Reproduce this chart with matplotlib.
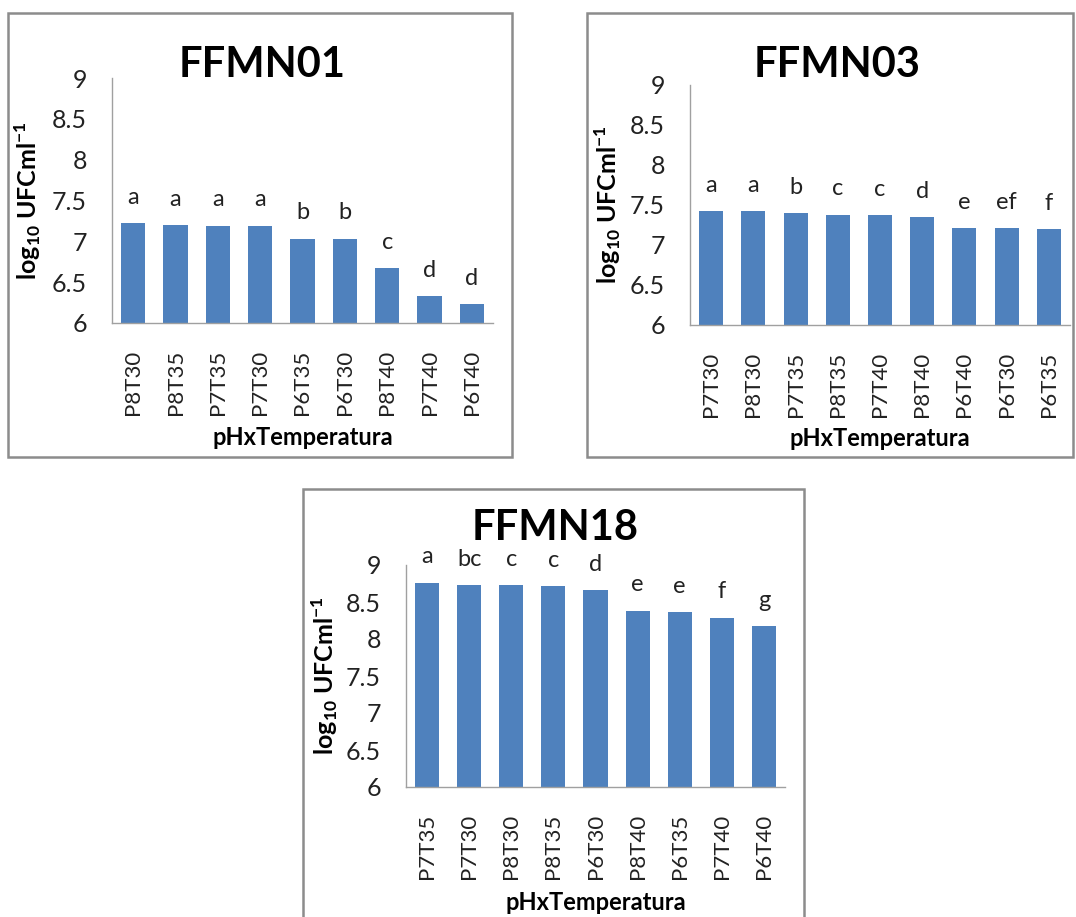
import matplotlib.pyplot as plt
from matplotlib.patches import Rectangle

plt.rcParams['font.family'] = ['Lato', 'DejaVu Sans']
plt.rcParams['mathtext.fontset'] = 'custom'
plt.rcParams['mathtext.rm'] = 'Lato:bold'
plt.rcParams['mathtext.bf'] = 'Lato:bold'

W, H = 1076, 917
BAR_COLOR = '#4F81BD'
GREY = '#8c8c8c'

# FFMN01
cats_01 = ['P8T30', 'P8T35', 'P7T35', 'P7T30', 'P6T35', 'P6T30', 'P8T40', 'P7T40', 'P6T40']
vals_01 = [7.22, 7.20, 7.19, 7.19, 7.03, 7.03, 6.67, 6.33, 6.23]
letters_01 = ['a', 'a', 'a', 'a', 'b', 'b', 'c', 'd', 'd']

# FFMN03
cats_03 = ['P7T30', 'P8T30', 'P7T35', 'P8T35', 'P7T40', 'P8T40', 'P6T40', 'P6T30', 'P6T35']
vals_03 = [7.42, 7.42, 7.40, 7.38, 7.37, 7.35, 7.21, 7.21, 7.20]
letters_03 = ['a', 'a', 'b', 'c', 'c', 'd', 'e', 'ef', 'f']

# FFMN18
cats_18 = ['P7T35', 'P7T30', 'P8T30', 'P8T35', 'P6T30', 'P8T40', 'P6T35', 'P7T40', 'P6T40']
vals_18 = [8.76, 8.73, 8.73, 8.71, 8.66, 8.38, 8.36, 8.29, 8.17]
letters_18 = ['a', 'bc', 'c', 'c', 'd', 'e', 'e', 'f', 'g']

yticks = [6, 6.5, 7, 7.5, 8, 8.5, 9]
ytick_labels = ['6', '6.5', '7', '7.5', '8', '8.5', '9']


def px_axes(fig, left, right, top, bottom):
    return fig.add_axes([left / W, 1 - bottom / H, (right - left) / W, (bottom - top) / H])


def px_box(fig, x0, x1, y0, y1):
    fig.add_artist(Rectangle((x0 / W, 1 - y1 / H), (x1 - x0) / W, (y1 - y0) / H,
                             transform=fig.transFigure, fill=False, ec=GREY, lw=1.8))


def draw_panel(ax, title, cats, vals, letters, title_xy, ylab_x, xlab_y):
    x = range(len(cats))
    ax.bar(x, vals, width=0.57, color=BAR_COLOR, bottom=0)
    ax.set_ylim(6, 9)
    ax.set_xlim(-0.5, len(cats) - 0.5)
    ax.set_yticks(yticks)
    ax.set_yticklabels(ytick_labels, fontsize=18, color='#222222')
    ax.set_xticks(list(x))
    ax.set_xticklabels(cats, rotation=90, fontsize=16, color='#222222')
    ax.tick_params(axis='both', length=0)
    ax.tick_params(axis='x', pad=19)
    ax.tick_params(axis='y', pad=18)
    for side in ['top', 'right']:
        ax.spines[side].set_visible(False)
    for side in ['left', 'bottom']:
        ax.spines[side].set_color('#a0a0a0')
        ax.spines[side].set_linewidth(1.0)
    for xi, v, lt in zip(x, vals, letters):
        ax.annotate(lt, (xi, v), xytext=(0, 14), textcoords='offset points',
                    ha='center', va='baseline', fontsize=17, color='#222222',
                    annotation_clip=False)
    ax.text(title_xy[0], title_xy[1], title, transform=ax.transAxes,
            ha='center', va='center', fontsize=30, fontweight='bold')
    ax.set_ylabel(r'log$_{\mathrm{10}}$ UFCml$^{\mathrm{-1}}$', fontsize=18, fontweight='bold')
    ax.yaxis.set_label_coords(ylab_x, 0.5)
    ax.yaxis.label.set_va('center')
    ax.set_xlabel('pHxTemperatura', fontsize=17, fontweight='bold')
    ax.xaxis.set_label_coords(0.5, xlab_y)
    ax.xaxis.label.set_va('center')


fig = plt.figure(figsize=(W / 100, H / 100), dpi=100)

px_box(fig, 8, 512, 13, 457)
px_box(fig, 587, 1073, 13, 457)
px_box(fig, 303, 804, 489, 930)

ax1 = px_axes(fig, 112, 493, 78, 323)
draw_panel(ax1, 'FFMN01', cats_01, vals_01, letters_01, (0.394, 1.053), -0.22, -0.469)

ax2 = px_axes(fig, 690, 1070, 85, 325)
draw_panel(ax2, 'FFMN03', cats_03, vals_03, letters_03, (0.387, 1.083), -0.216, -0.471)

ax3 = px_axes(fig, 406, 785, 565, 787)
draw_panel(ax3, 'FFMN18', cats_18, vals_18, letters_18, (0.393, 1.167), -0.214, -0.52)

fig.savefig('out.png', dpi=100)
